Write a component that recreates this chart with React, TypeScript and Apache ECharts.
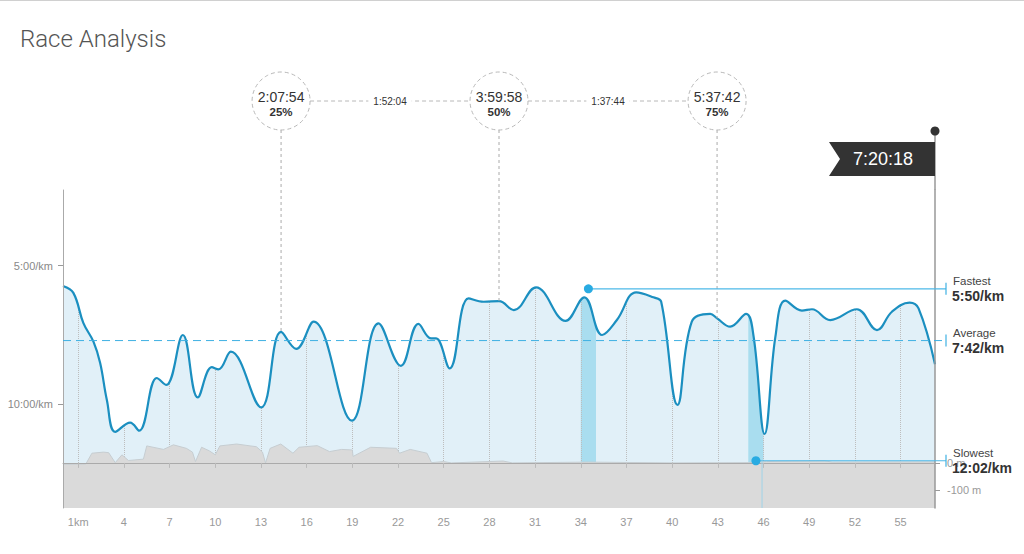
import React, { useEffect, useRef } from "react";
import * as echarts from "echarts";

// ---- data ----
const paceKm = [0, 0.68, 1.34, 2.0, 2.44, 2.88, 3.43, 4.41, 5.0, 6.16, 6.78, 7.87, 8.85, 9.77, 10.21, 11.02, 13.01, 14.32, 15.31, 16.45, 18.97, 20.72, 22.19, 23.34, 24.16, 24.5, 25.39, 26.63, 27.62, 28.63, 29.6, 31.06, 33.0, 34.23, 35.4, 36.37, 37.64, 38.77, 39.28, 40.35, 41.29, 42.5, 42.95, 43.81, 44.86, 45.35, 46.07, 46.78, 47.43, 48.52, 49.18, 50.38, 52.13, 53.45, 54.43, 55.59, 56.18, 57.26];
const paceMin = [5.73, 5.98, 7.07, 7.74, 8.51, 9.84, 10.99, 10.66, 10.95, 9.05, 9.3, 7.5, 9.75, 8.66, 8.74, 8.1, 10.11, 7.39, 8.0, 7.02, 10.59, 7.08, 8.61, 7.1, 7.62, 7.62, 8.7, 6.18, 6.3, 6.28, 6.6, 5.78, 6.99, 6.14, 7.5, 6.96, 5.96, 6.14, 6.3, 10.02, 7.02, 6.74, 6.9, 7.2, 6.74, 7.56, 11.07, 7.56, 6.26, 6.62, 6.57, 6.96, 6.57, 7.32, 6.66, 6.33, 6.54, 8.55];

const elevKm = [0, 1.5, 1.9, 2.66, 3.0, 3.43, 3.87, 4.3, 5.28, 5.5, 6.6, 7.25, 8.1, 8.5, 8.7, 9.1, 9.6, 10.0, 10.3, 11.4, 12.7, 13.1, 13.3, 13.6, 14.3, 15.1, 15.5, 16.7, 17.5, 18.3, 19.0, 19.05, 20.2, 21.9, 22.1, 22.8, 23.9, 24.2, 25.0, 25.5, 28.9, 29.5, 34.5, 40, 45, 46.2, 50.0, 50.5, 57.26];
const elevM = [-5, -4, 36, 40, 38, 1, 30, 9, 14, 63, 50, 67, 54, 40, 5, 58, 45, 30, 63, 70, 60, 40, 0, 54, 70, 36, 58, 64, 42, 50, 48, 24, 58, 54, 36, 50, 36, 1, 5, 0, 7, 0, 3, 0, 1, 5, 8, 3, 4];

const xTicks = [1, 4, 7, 10, 13, 16, 19, 22, 25, 28, 31, 34, 37, 40, 43, 46, 49, 52, 55];
const paceTicks = [5, 10];
const elevTicks = [0, -100];

const milestoneKm = [14.32, 28.63, 42.95];
const milestoneTime = ["2:07:54", "3:59:58", "5:37:42"];
const milestonePct = ["25%", "50%", "75%"];
const splitGaps = ["1:52:04", "1:37:44"];

const totalKm = 57.26;
const finishTime = "7:20:18";
const fastestSplit = [34, 35];
const slowestSplit = [45, 46];
const refNames = ["Fastest", "Average", "Slowest"];
const refPaces = [5 + 50 / 60, 7 + 42 / 60, 12 + 2 / 60];
const refTexts = ["5:50/km", "7:42/km", "12:02/km"];

const FONT = "'Liberation Sans', Arial, sans-serif";

export default function App() {
  const ref = useRef<HTMLDivElement>(null);
  useEffect(() => {
    document.body.style.margin = "0";
    const chart = echarts.init(ref.current!, null, { renderer: "svg" });
    const paceData = paceKm.map((k, i) => [k, paceMin[i]]);
    const elevData = elevKm.map((k, i) => [k, elevM[i]]);
    const smooth = 0.4;

    chart.setOption({
      animation: false,
      textStyle: { fontFamily: FONT },
      grid: { left: 63, right: 89, top: 190, bottom: 46, outerBoundsMode: "none" },
      xAxis: {
        type: "value",
        min: 0,
        max: totalKm,
        z: 6,
        axisLine: { lineStyle: { color: "#aaa" } },
        axisTick: { show: true, customValues: xTicks, length: 5, lineStyle: { color: "#bbb" } },
        axisLabel: {
          customValues: xTicks,
          formatter: (v: number) => (v === 1 ? "1km" : String(v)),
          color: "#999",
          fontSize: 11,
          margin: 8,
        },
        splitLine: { show: false },
      },
      yAxis: [
        {
          type: "value",
          inverse: true,
          min: 2.27,
          max: 13.738,
          position: "left",
          z: 6,
          axisLine: { show: true, lineStyle: { color: "#aaa" } },
          axisTick: { show: true, customValues: paceTicks, length: 5, lineStyle: { color: "#999" } },
          axisLabel: {
            customValues: paceTicks,
            formatter: (v: number) => `${v}:00/km`,
            color: "#888",
            fontSize: 11,
            margin: 10,
          },
          splitLine: { show: false },
        },
        {
          type: "value",
          min: -167,
          max: 1011,
          position: "right",
          z: 6,
          axisLine: { show: true, lineStyle: { color: "#999", width: 1.5 } },
          axisTick: { show: true, customValues: elevTicks, length: 5, lineStyle: { color: "#999" } },
          axisLabel: {
            customValues: elevTicks,
            formatter: (v: number) => `${v} m`,
            color: "#999",
            fontSize: 11,
            margin: 12,
          },
          splitLine: { show: false },
        },
      ],
      series: [
        {
          name: "paceFill",
          type: "line",
          data: paceData,
          smooth,
          showSymbol: false,
          silent: true,
          z: 1,
          lineStyle: { width: 0, opacity: 0 },
          areaStyle: { color: "#e1f0f8", opacity: 1, origin: "end" },
        },
        {
          name: "guides",
          type: "line",
          data: paceData,
          smooth,
          showSymbol: false,
          silent: true,
          z: 2,
          lineStyle: { width: 0, opacity: 0 },
          markLine: {
            z: 2,
            silent: true,
            symbol: "none",
            label: { show: false },
            lineStyle: { type: "dotted", color: "#bdbdbd", width: 1 },
            data: xTicks.map((v) => ({ xAxis: v })),
          },
          markArea: {
            z: 2,
            silent: true,
            itemStyle: { color: "#a9ddef" },
            data: [
              [{ xAxis: fastestSplit[0] }, { xAxis: fastestSplit[1] }],
              [{ xAxis: slowestSplit[0] }, { xAxis: slowestSplit[1] }],
            ],
          },
        },
        {
          name: "mask",
          type: "line",
          data: paceData,
          smooth,
          showSymbol: false,
          silent: true,
          z: 3,
          lineStyle: { width: 0, opacity: 0 },
          areaStyle: { color: "#ffffff", opacity: 1, origin: "start" },
        },
        {
          name: "elevation",
          type: "line",
          yAxisIndex: 1,
          data: elevData,
          showSymbol: false,
          silent: true,
          z: 4,
          lineStyle: { color: "#c6cdd1", width: 1 },
          areaStyle: { color: "#dadada", opacity: 1, origin: "start" },
        },
        {
          name: "pace",
          type: "line",
          data: paceData,
          smooth,
          showSymbol: false,
          silent: true,
          z: 5,
          lineStyle: { color: "#1b8fc0", width: 2.2 },
        },
      ],
    });

    const px = (x: number, y: number) =>
      chart.convertToPixel({ xAxisIndex: 0, yAxisIndex: 0 }, [x, y]) as number[];
    const gridTop = px(0, 2.27)[1];
    const gridBottom = px(0, 13.738)[1];
    const gridLeft = px(0, 5)[0];
    const fx = px(totalKm, 5)[0];
    const endX = fx + 11;
    const g: any[] = [];
    const Z = 10;

    g.push({ type: "line", z: Z, shape: { x1: 0, y1: 0.5, x2: 1024, y2: 0.5 }, style: { stroke: "#d0d0d0", lineWidth: 1 } });
    g.push({
      type: "text", z: Z, x: 20, y: 39,
      style: { text: "Race Analysis", fontSize: 24, fontFamily: "Roboto, " + FONT, fontWeight: 300, fill: "#555", verticalAlign: "middle", align: "left" },
    });

    // milestones
    const cy = 101;
    const r = 29;
    const mxs: number[] = [];
    milestoneKm.forEach((km, i) => {
      const pace = paceMin[paceKm.indexOf(km)];
      const [mx, my] = px(km, pace);
      mxs.push(mx);
      g.push({ type: "line", z: Z, shape: { x1: mx, y1: cy + r, x2: mx, y2: my }, style: { stroke: "#aaa", lineDash: [3, 3], lineWidth: 1 } });
      g.push({ type: "circle", z: Z, shape: { cx: mx, cy, r }, style: { fill: "#fff", stroke: "#b8b8b8", lineDash: [4, 3], lineWidth: 1 } });
      g.push({ type: "text", z: Z + 1, x: mx, y: cy - 4, style: { text: milestoneTime[i], fontSize: 14, fontFamily: FONT, fill: "#333", align: "center", verticalAlign: "middle" } });
      g.push({ type: "text", z: Z + 1, x: mx, y: cy + 11, style: { text: milestonePct[i], fontSize: 11.5, fontWeight: "bold", fontFamily: FONT, fill: "#333", align: "center", verticalAlign: "middle" } });
    });
    splitGaps.forEach((t, i) => {
      const a = mxs[i] + r;
      const b = mxs[i + 1] - r;
      g.push({ type: "line", z: Z, shape: { x1: a, y1: cy, x2: b, y2: cy }, style: { stroke: "#b8b8b8", lineDash: [4, 3], lineWidth: 1 } });
      g.push({
        type: "text", z: Z + 1, x: (a + b) / 2, y: cy,
        style: { text: t, fontSize: 10, fontFamily: FONT, fill: "#333", align: "center", verticalAlign: "middle", backgroundColor: "#fff", padding: [2, 5] },
      });
    });

    // finish flag
    g.push({ type: "line", z: Z, shape: { x1: fx, y1: 131, x2: fx, y2: gridTop }, style: { stroke: "#999", lineWidth: 1.5 } });
    g.push({ type: "circle", z: Z, shape: { cx: fx, cy: 131, r: 4.5 }, style: { fill: "#333" } });
    g.push({
      type: "polygon", z: Z,
      shape: { points: [[fx - 106, 142], [fx, 142], [fx, 176], [fx - 106, 176], [fx - 95, 159]] },
      style: { fill: "#333" },
    });
    g.push({ type: "text", z: Z + 1, x: fx - 52, y: 159, style: { text: finishTime, fontSize: 18, fontFamily: FONT, fill: "#fff", align: "center", verticalAlign: "middle" } });

    // reference lines
    const dotKm = [(fastestSplit[0] + fastestSplit[1]) / 2, null, (slowestSplit[0] + slowestSplit[1]) / 2];
    refPaces.forEach((p, i) => {
      const y = px(0, p)[1];
      const k = dotKm[i];
      if (k === null) {
        g.push({ type: "line", z: Z, shape: { x1: gridLeft, y1: y, x2: endX, y2: y }, style: { stroke: "#3eb1e3", lineDash: [8, 5], lineWidth: 1 } });
      } else {
        const dx = px(k as number, p)[0];
        g.push({ type: "line", z: Z, shape: { x1: dx, y1: y, x2: endX, y2: y }, style: { stroke: "#4db9e8", lineWidth: 1.2 } });
        g.push({ type: "circle", z: Z + 1, shape: { cx: dx, cy: y, r: 4.5 }, style: { fill: "#29abe2" } });
      }
      g.push({ type: "line", z: Z, shape: { x1: endX, y1: y - 6, x2: endX, y2: y + 6 }, style: { stroke: "#3eb1e3", lineWidth: 1.2 } });
      g.push({ type: "text", z: Z + 2, x: endX + 7, y: y - 8, style: { text: refNames[i], fontSize: 11.5, fontFamily: FONT, fill: "#444", align: "left", verticalAlign: "middle" } });
      g.push({ type: "text", z: Z + 2, x: endX + 6, y: y + 7, style: { text: refTexts[i], fontSize: 14, fontWeight: "bold", fontFamily: FONT, fill: "#333", align: "left", verticalAlign: "middle" } });
    });
    // slowest drop line
    const sy = px(0, refPaces[2])[1];
    const sx = px(slowestSplit[1], refPaces[2])[0] - 1.5;
    g.push({ type: "line", z: Z, shape: { x1: sx, y1: sy, x2: sx, y2: gridBottom }, style: { stroke: "#9fd3e8", lineWidth: 1 } });

    chart.setOption({ graphic: g });
    return () => chart.dispose();
  }, []);

  return (
    <div
      ref={ref}
      style={{ position: "absolute", left: 0, top: 0, width: 1024, height: 554, background: "#fff" }}
    />
  );
}
